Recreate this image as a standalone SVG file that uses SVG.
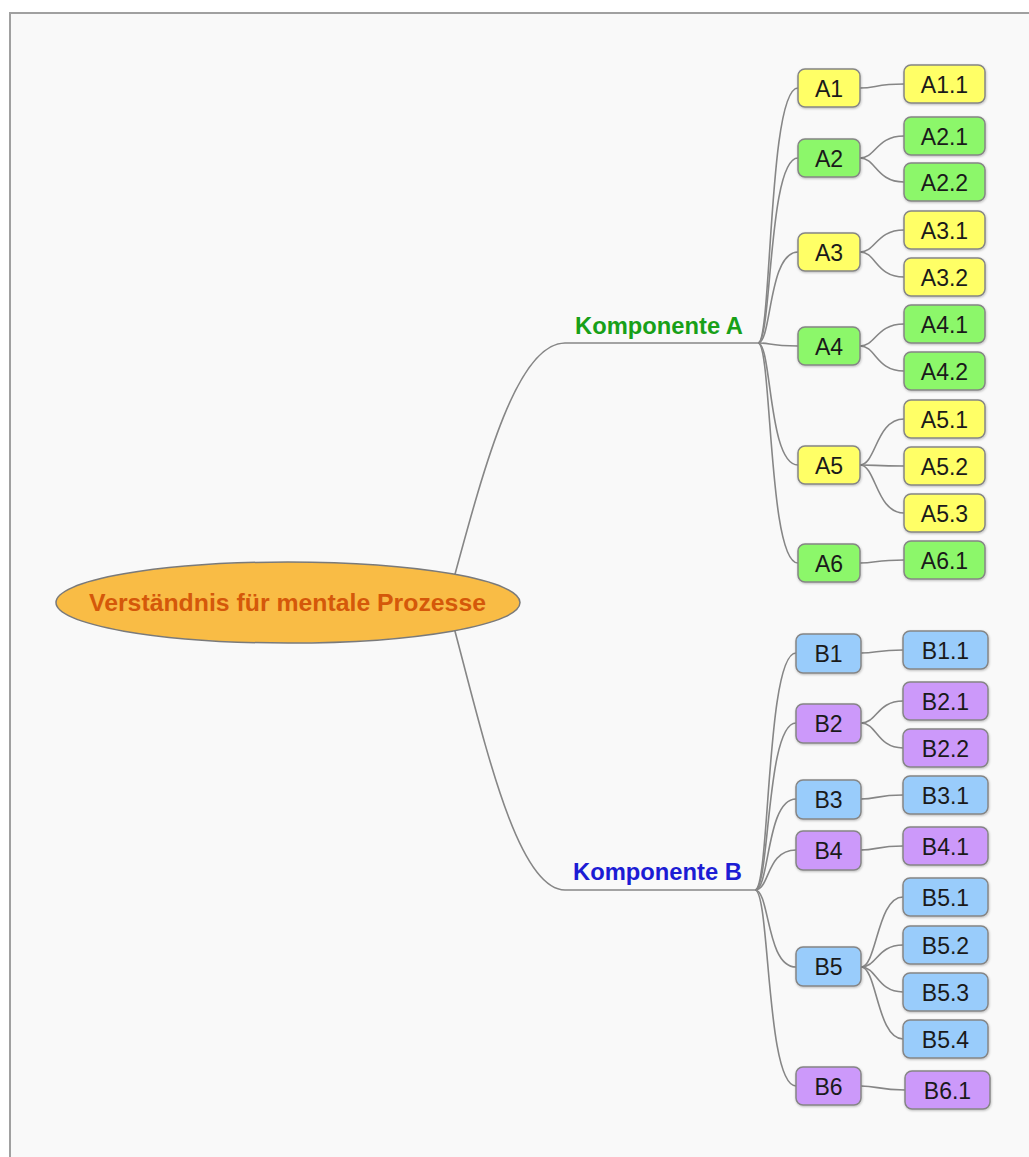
<svg xmlns="http://www.w3.org/2000/svg" width="1029" height="1157" viewBox="0 0 1029 1157">
<defs>
<filter id="sh" x="-10%" y="-10%" width="130%" height="140%">
<feDropShadow dx="0.5" dy="1" stdDeviation="0.8" flood-color="#000" flood-opacity="0.25"/>
</filter>
<style>
.n rect{stroke:#858585;stroke-width:1.5;filter:url(#sh)}
.n text{font-family:"Liberation Sans",Arial,sans-serif;font-size:23px;fill:#1a1a1a;text-anchor:middle}
.y rect{fill:#ffff66}
.g rect{fill:#8cf76a}
.b rect{fill:#99ccfb}
.p rect{fill:#cc99fa}
#conn path{fill:none;stroke:#868686;stroke-width:1.6}
.k{font-family:"Liberation Sans",Arial,sans-serif;font-size:23px;font-weight:bold;text-anchor:middle}
</style>
</defs>
<rect x="0" y="0" width="1029" height="1157" fill="#ffffff"/>
<rect x="10" y="13" width="1100" height="1200" fill="#f9f9f9" stroke="#a0a0a0" stroke-width="2"/>

<g id="conn">
<path d="M448 600 C482 475 515 343 565 343 L760 343"/>
<path d="M448 605 C482 730 515 890 565 890 L757 890"/>
<!-- A level -->
<path d="M758 343 C772 343 768 88 798 88"/>
<path d="M758 343 C772 343 768 158 798 158"/>
<path d="M758 343 C772 343 768 252 798 252"/>
<path d="M758 343 C772 343 768 346 798 346"/>
<path d="M758 343 C772 343 768 465 798 465"/>
<path d="M758 343 C772 343 768 563 798 563"/>
<!-- A leaves -->
<path d="M860 88 C876 88 876 84 904 84"/>
<path d="M860 158 C876 158 876 136 904 136"/>
<path d="M860 158 C876 158 876 182 904 182"/>
<path d="M860 252 C876 252 876 230 904 230"/>
<path d="M860 252 C876 252 876 277 904 277"/>
<path d="M860 346 C876 346 876 324 904 324"/>
<path d="M860 346 C876 346 876 371 904 371"/>
<path d="M860 465 C876 465 876 419 904 419"/>
<path d="M860 465 C876 465 876 466 904 466"/>
<path d="M860 465 C876 465 876 513 904 513"/>
<path d="M860 563 C876 563 876 560 904 560"/>
<!-- B level -->
<path d="M755 890 C770 890 766 653 796 653"/>
<path d="M755 890 C770 890 766 723 796 723"/>
<path d="M755 890 C770 890 766 799 796 799"/>
<path d="M755 890 C770 890 766 850 796 850"/>
<path d="M755 890 C770 890 766 967 796 967"/>
<path d="M755 890 C770 890 766 1086 796 1086"/>
<!-- B leaves -->
<path d="M861 653 C877 653 877 650 903 650"/>
<path d="M861 723 C877 723 877 701 903 701"/>
<path d="M861 723 C877 723 877 748 903 748"/>
<path d="M861 799 C877 799 877 795 903 795"/>
<path d="M861 850 C877 850 877 846 903 846"/>
<path d="M861 967 C877 967 877 897 903 897"/>
<path d="M861 967 C877 967 877 945 903 945"/>
<path d="M861 967 C877 967 877 992 903 992"/>
<path d="M861 967 C877 967 877 1039 903 1039"/>
<path d="M861 1086 C878 1086 878 1090 905 1090"/>
</g>

<g id="root">
<ellipse cx="288" cy="602.5" rx="232" ry="40.5" fill="#f9bc45" stroke="#7a7a7a" stroke-width="1.5"/>
<text x="287.5" y="611" class="k" fill="#d4580a" font-size="25" textLength="397" lengthAdjust="spacingAndGlyphs">Verständnis für mentale Prozesse</text>
</g>
<g id="kA"><text x="659" y="334" class="k" fill="#18a018" textLength="168" lengthAdjust="spacingAndGlyphs">Komponente A</text></g>
<g id="kB"><text x="657.5" y="880" class="k" fill="#1c1cd4" textLength="169" lengthAdjust="spacingAndGlyphs">Komponente B</text></g>

<g id="A1" class="n y"><rect x="798" y="69" width="62" height="38" rx="7"/><text x="829" y="97">A1</text></g>
<g id="A2" class="n g"><rect x="798" y="139" width="62" height="38" rx="7"/><text x="829" y="167">A2</text></g>
<g id="A3" class="n y"><rect x="798" y="233" width="62" height="38" rx="7"/><text x="829" y="261">A3</text></g>
<g id="A4" class="n g"><rect x="798" y="327" width="62" height="38" rx="7"/><text x="829" y="355">A4</text></g>
<g id="A5" class="n y"><rect x="798" y="446" width="62" height="38" rx="7"/><text x="829" y="474">A5</text></g>
<g id="A6" class="n g"><rect x="798" y="544" width="62" height="38" rx="7"/><text x="829" y="572">A6</text></g>

<g id="A1.1" class="n y"><rect x="904" y="65" width="81" height="38" rx="7"/><text x="944.5" y="93">A1.1</text></g>
<g id="A2.1" class="n g"><rect x="904" y="117" width="81" height="38" rx="7"/><text x="944.5" y="145">A2.1</text></g>
<g id="A2.2" class="n g"><rect x="904" y="163" width="81" height="38" rx="7"/><text x="944.5" y="191">A2.2</text></g>
<g id="A3.1" class="n y"><rect x="904" y="211" width="81" height="38" rx="7"/><text x="944.5" y="239">A3.1</text></g>
<g id="A3.2" class="n y"><rect x="904" y="258" width="81" height="38" rx="7"/><text x="944.5" y="286">A3.2</text></g>
<g id="A4.1" class="n g"><rect x="904" y="305" width="81" height="38" rx="7"/><text x="944.5" y="333">A4.1</text></g>
<g id="A4.2" class="n g"><rect x="904" y="352" width="81" height="38" rx="7"/><text x="944.5" y="380">A4.2</text></g>
<g id="A5.1" class="n y"><rect x="904" y="400" width="81" height="38" rx="7"/><text x="944.5" y="428">A5.1</text></g>
<g id="A5.2" class="n y"><rect x="904" y="447" width="81" height="38" rx="7"/><text x="944.5" y="475">A5.2</text></g>
<g id="A5.3" class="n y"><rect x="904" y="494" width="81" height="38" rx="7"/><text x="944.5" y="522">A5.3</text></g>
<g id="A6.1" class="n g"><rect x="904" y="541" width="81" height="38" rx="7"/><text x="944.5" y="569">A6.1</text></g>

<g id="B1" class="n b"><rect x="796" y="634" width="65" height="39" rx="7"/><text x="828.5" y="662">B1</text></g>
<g id="B2" class="n p"><rect x="796" y="704" width="65" height="39" rx="7"/><text x="828.5" y="732">B2</text></g>
<g id="B3" class="n b"><rect x="796" y="780" width="65" height="39" rx="7"/><text x="828.5" y="808">B3</text></g>
<g id="B4" class="n p"><rect x="796" y="831" width="65" height="39" rx="7"/><text x="828.5" y="859">B4</text></g>
<g id="B5" class="n b"><rect x="796" y="947" width="65" height="39" rx="7"/><text x="828.5" y="975">B5</text></g>
<g id="B6" class="n p"><rect x="796" y="1067" width="65" height="38" rx="7"/><text x="828.5" y="1095">B6</text></g>

<g id="B1.1" class="n b"><rect x="903" y="631" width="85" height="38" rx="7"/><text x="945.5" y="659">B1.1</text></g>
<g id="B2.1" class="n p"><rect x="903" y="682" width="85" height="38" rx="7"/><text x="945.5" y="710">B2.1</text></g>
<g id="B2.2" class="n p"><rect x="903" y="729" width="85" height="38" rx="7"/><text x="945.5" y="757">B2.2</text></g>
<g id="B3.1" class="n b"><rect x="903" y="776" width="85" height="38" rx="7"/><text x="945.5" y="804">B3.1</text></g>
<g id="B4.1" class="n p"><rect x="903" y="827" width="85" height="38" rx="7"/><text x="945.5" y="855">B4.1</text></g>
<g id="B5.1" class="n b"><rect x="903" y="878" width="85" height="38" rx="7"/><text x="945.5" y="906">B5.1</text></g>
<g id="B5.2" class="n b"><rect x="903" y="926" width="85" height="38" rx="7"/><text x="945.5" y="954">B5.2</text></g>
<g id="B5.3" class="n b"><rect x="903" y="973" width="85" height="38" rx="7"/><text x="945.5" y="1001">B5.3</text></g>
<g id="B5.4" class="n b"><rect x="903" y="1020" width="85" height="38" rx="7"/><text x="945.5" y="1048">B5.4</text></g>
<g id="B6.1" class="n p"><rect x="905" y="1071" width="85" height="38" rx="7"/><text x="947.5" y="1099">B6.1</text></g>
</svg>
